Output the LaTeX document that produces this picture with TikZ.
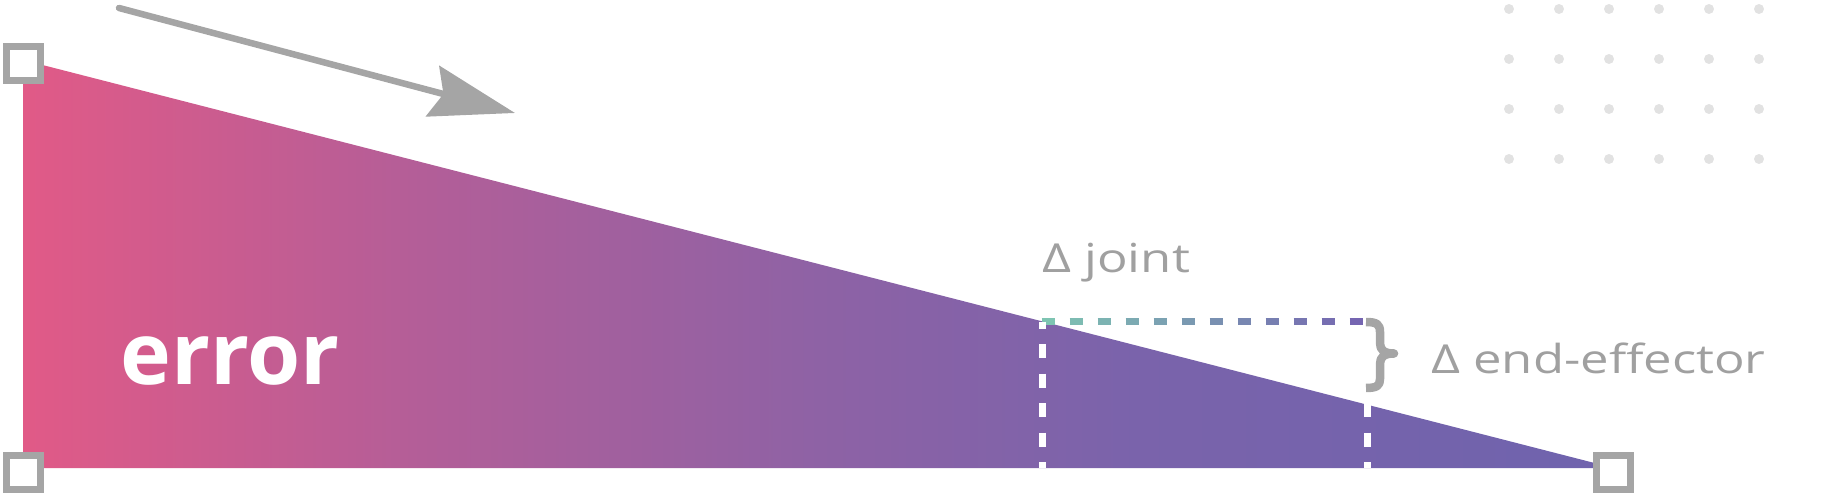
\documentclass[tikz,border=0pt]{standalone}
\usepackage{fontspec}
\setmainfont{Open Sans}
\newfontfamily\widefont[FakeStretch=1.27]{Open Sans}
\usetikzlibrary{arrows.meta}

\definecolor{errpink}{HTML}{E15A87}
\definecolor{errrose}{HTML}{B35E98}
\definecolor{errmauve}{HTML}{8E62A5}
\definecolor{errviolet}{HTML}{7A63AB}
\definecolor{errpurple}{HTML}{6F63AD}
\definecolor{handlegray}{HTML}{A5A5A5}
\definecolor{labelgray}{HTML}{A0A0A0}
\definecolor{dotgray}{HTML}{E2E2E2}
\definecolor{jointteal}{HTML}{7EC4B2}
\definecolor{jointpurple}{HTML}{7565B1}

\pgfdeclarehorizontalshading{errorfade}{100bp}{color(0bp)=(errpink); color(25bp)=(errpink); color(37.5bp)=(errrose); color(50bp)=(errmauve); color(60bp)=(errviolet); color(75bp)=(errpurple); color(100bp)=(errpurple)}

\begin{document}
\begin{tikzpicture}[x=1pt,y=-1pt,
  handle/.style={draw=handlegray, fill=white, line width=7pt, minimum size=34pt, inner sep=0pt},
  pointer/.style={handlegray, line width=6.5pt, line cap=round, -{Stealth[length=85pt, width=52pt, inset=11pt]}},
  gapdash/.style={line width=6.7pt},
  dropline/.style={white, line width=7pt, dash pattern=on 14pt off 15.5pt, dash phase=7pt},
  graylabel/.style={text=labelgray, inner sep=0pt, anchor=base west, font=\widefont\fontsize{40}{48}\selectfont}]
\useasboundingbox (0,0) rectangle (1834,494);
% dots, top right
\fill[dotgray] (1509,9) circle (5pt) (1559,9) circle (5pt) (1609,9) circle (5pt) (1659,9) circle (5pt) (1709,9) circle (5pt) (1759,9) circle (5pt);
\fill[dotgray] (1509,59) circle (5pt) (1559,59) circle (5pt) (1609,59) circle (5pt) (1659,59) circle (5pt) (1709,59) circle (5pt) (1759,59) circle (5pt);
\fill[dotgray] (1509,109) circle (5pt) (1559,109) circle (5pt) (1609,109) circle (5pt) (1659,109) circle (5pt) (1709,109) circle (5pt) (1759,109) circle (5pt);
\fill[dotgray] (1509,159) circle (5pt) (1559,159) circle (5pt) (1609,159) circle (5pt) (1659,159) circle (5pt) (1709,159) circle (5pt) (1759,159) circle (5pt);
% arrow
\coordinate (swingfrom) at (119,8);
\coordinate (swingto) at (515,113);
\draw[pointer] (swingfrom) -- (swingto);
% error triangle
\coordinate (tl) at (23,60);
\coordinate (bl) at (23,468);
\coordinate (br) at (1614,468);
\shade[shading=errorfade] (tl) -- (bl) -- (br) -- cycle;
\node[anchor=base west, inner sep=0pt, text=white, font=\bfseries\fontsize{86}{100}\selectfont] (error) at (120,384) {error};
% joint gap
\draw[gapdash, jointteal] (1041.7,321.7) -- ++(13.3,0);
\draw[gapdash, jointteal!91!jointpurple] (1069.7,321.7) -- ++(13.3,0);
\draw[gapdash, jointteal!82!jointpurple] (1097.7,321.7) -- ++(13.3,0);
\draw[gapdash, jointteal!73!jointpurple] (1125.7,321.7) -- ++(13.3,0);
\draw[gapdash, jointteal!64!jointpurple] (1153.7,321.7) -- ++(13.3,0);
\draw[gapdash, jointteal!55!jointpurple] (1181.7,321.7) -- ++(13.3,0);
\draw[gapdash, jointteal!45!jointpurple] (1209.7,321.7) -- ++(13.3,0);
\draw[gapdash, jointteal!36!jointpurple] (1237.7,321.7) -- ++(13.3,0);
\draw[gapdash, jointteal!27!jointpurple] (1265.7,321.7) -- ++(13.3,0);
\draw[gapdash, jointteal!18!jointpurple] (1293.7,321.7) -- ++(13.3,0);
\draw[gapdash, jointteal!9!jointpurple] (1321.7,321.7) -- ++(13.3,0);
\draw[gapdash, jointpurple] (1349.7,321.7) -- ++(13.3,0);
\coordinate (jointtop) at (1042,321.7);
\coordinate (jointfoot) at (1042,468);
\coordinate (effectortop) at (1367,321.7);
\coordinate (effectorfoot) at (1367,468);
\draw[dropline] (jointtop) -- (jointfoot);
\draw[dropline] (effectortop) -- (effectorfoot);
% brace
\draw[handlegray, line width=8.5pt, line join=round] (1366,322) .. controls (1377,322) and (1380,324.5) .. (1380,332) -- (1380,343) .. controls (1380,350) and (1384,353.5) .. (1394,353.5) .. controls (1384,353.5) and (1380,357) .. (1380,364) -- (1380,379) .. controls (1380,385.5) and (1377,388) .. (1366,388);
% labels
\node[graylabel] (jointlabel) at (1042,273) {Δ joint};
\node[graylabel] (effectorlabel) at (1431,373) {Δ end-effector};
% corner handles
\node[handle] (tlhandle) at (23,63.7) {};
\node[handle] (blhandle) at (23,472) {};
\node[handle] (brhandle) at (1613.5,472) {};
\end{tikzpicture}
\end{document}
